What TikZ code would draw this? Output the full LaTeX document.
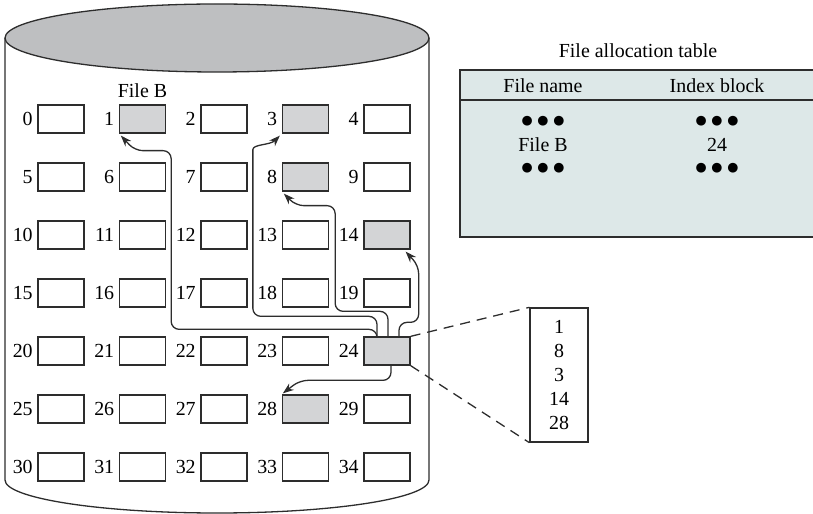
\documentclass[tikz,border=0pt]{standalone}
\usepackage{fontspec}
\setmainfont{Liberation Serif}
\newfontfamily\symfont{DejaVu Sans}
\usetikzlibrary{arrows.meta}
\definecolor{lidgray}{RGB}{190,191,193}
\definecolor{blkgray}{RGB}{211,212,214}
\definecolor{fatfill}{RGB}{221,232,232}
\definecolor{ink}{RGB}{45,45,45}
\newcommand\bulrow{●\kern2.4bp●\kern2.4bp●}
\begin{document}
\begin{tikzpicture}[x=0.5bp,y=-0.5bp,line width=0.65bp,
  blk/.style={draw=ink,minimum width=23bp,minimum height=14bp,inner sep=0pt},
  num/.style={inner sep=0pt,font=\fontsize{10}{12}\selectfont},
  dots/.style={inner sep=0pt,font=\symfont\fontsize{6.4}{7}\selectfont},
  link/.style={draw=ink,rounded corners=4bp,-{Stealth[length=5.5bp,width=4bp]}},
  ptr/.style={draw=ink,dash pattern=on 5bp off 3.5bp}]
\useasboundingbox (0,0) rectangle (813,514);
% disk
\draw[draw=ink,fill=lidgray] (217,38) ellipse [x radius=212, y radius=34];
\draw[draw=ink] (5,38) -- (5,480)
  arc[start angle=180, end angle=0, x radius=212, y radius=33] -- (429,38);
\foreach \i in {0,...,34}{
  \pgfmathtruncatemacro\col{mod(\i,5)}
  \pgfmathtruncatemacro\row{div(\i,5)}
  \pgfmathtruncatemacro\hit{(\i==1)||(\i==3)||(\i==8)||(\i==14)||(\i==24)||(\i==28)}
  \ifnum\hit=1 \def\blkfill{blkgray}\else\def\blkfill{white}\fi
  \node[blk,fill=\blkfill,label={[num,label distance=2bp]left:\i}]
    (b\i) at (61+81.5*\col,119+58*\row) {};
}
\node[num,above=3bp] (fileb) at (b1.north) {File B};
\draw[link] ([xshift=-5bp]b24.north) -- ++(0,-7)
  -| ([shift={(2.5bp,-8.5bp)}]b1.south east)
  -- ([shift={(8bp,-8.5bp)}]b1.south west)
  -- ([shift={(1bp,-1bp)}]b1.south west);
\draw[link] ([xshift=-5bp]b24.north) -- ++(0,-20)
  -| ([shift={(-14.5bp,-12bp)}]b3.south west)
  to[out=90,in=-135] ([shift={(-1bp,-1bp)}]b3.south west);
\draw[link] ([xshift=0.5bp]b24.north) -- ++(0,-25)
  -| ([shift={(3bp,-7bp)}]b8.south east)
  -- ([shift={(7bp,-7bp)}]b8.south west)
  -- ([shift={(1bp,-1bp)}]b8.south west);
\draw[link] ([xshift=6bp]b24.north) -- ++(0,-14)
  -| ([shift={(4bp,-8bp)}]b14.south east)
  -- ([shift={(-2.5bp,-1bp)}]b14.south east);
\draw[link] ([xshift=2bp]b24.south)
  |- ([shift={(9bp,7bp)}]b28.north west)
  -- ([shift={(0.5bp,0.5bp)}]b28.north west);
% index block
\node[draw=ink,num,align=center,minimum width=29bp,minimum height=67bp]
  (idx) at (559,375) {1\\8\\3\\14\\28};
\draw[ptr] (b24.north east) -- (idx.north west);
\draw[ptr] (b24.south east) -- (idx.south west);
% file allocation table
\node[num] (title) at (638,51) {File allocation table};
\draw[draw=ink,fill=fatfill] (460,70) rectangle (822,237);
\draw[draw=ink] (460,100) -- (822,100);
\node[num] (fname) at (543,86) {File name};
\node[num] (iblock) at (717,86) {Index block};
\node[dots] (d1) at (543,121) {\bulrow};
\node[dots] (d2) at (717,121) {\bulrow};
\node[num] (fb) at (543,145) {File B};
\node[num] (ib) at (717,145) {24};
\node[dots] (d3) at (543,168) {\bulrow};
\node[dots] (d4) at (717,168) {\bulrow};
\end{tikzpicture}
\end{document}
